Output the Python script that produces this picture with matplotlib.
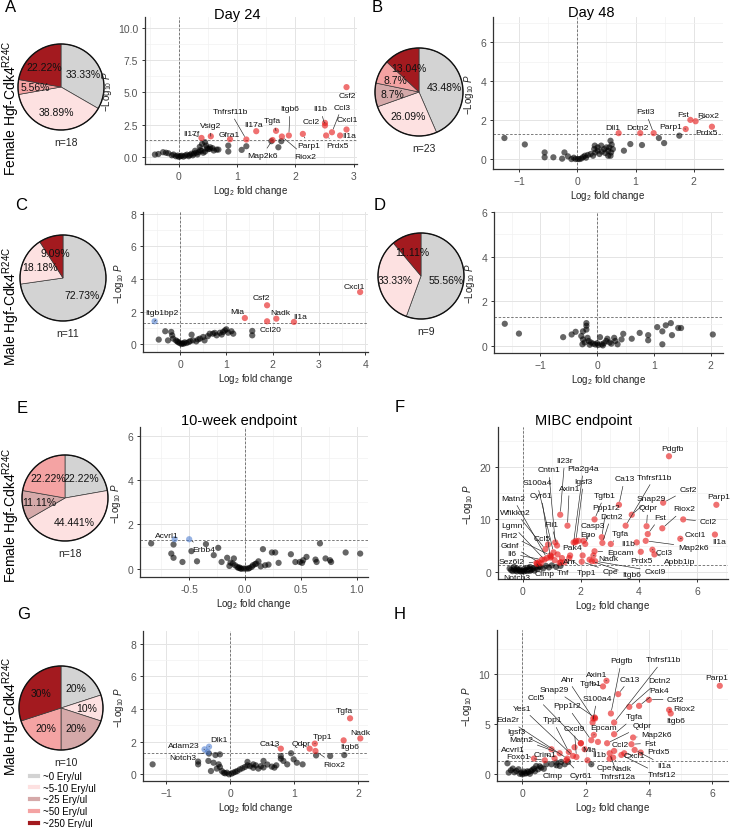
import numpy as np
import matplotlib
matplotlib.use('Agg')
import matplotlib.pyplot as plt
from matplotlib.lines import Line2D
from matplotlib.ticker import AutoMinorLocator, FormatStrFormatter

plt.rcParams['font.family'] = ['Liberation Sans', 'DejaVu Sans']
plt.rcParams['mathtext.fontset'] = 'custom'
plt.rcParams['mathtext.rm'] = 'Liberation Sans'
plt.rcParams['mathtext.it'] = 'Liberation Sans:italic'
plt.rcParams['mathtext.bf'] = 'Liberation Sans:bold'

# ---------------- data ----------------
ery_levels = ['~0 Ery/ul', '~5-10 Ery/ul', '~25 Ery/ul', '~50 Ery/ul', '~250 Ery/ul']
ery_colors = ['#d3d3d3', '#fde1e1', '#d5a9a9', '#f4a3a3', '#a31a1f']

pie_A = [33.33, 38.89, 0, 5.56, 22.22]
pie_B = [43.48, 26.09, 8.7, 8.7, 13.04]
pie_C = [72.73, 18.18, 0, 0, 9.09]
pie_D = [55.56, 33.33, 0, 0, 11.11]
pie_E = [22.22, 44.441, 11.11, 22.22, 0]
pie_G = [20, 10, 20, 20, 30]
n_A, n_B, n_C, n_D, n_E, n_G = 18, 23, 11, 9, 18, 10

P_CUT = -np.log10(0.05)

# labelled genes: (gene, log2FC, -log10 P)
A_lab = [('Csf2', 2.88, 5.41), ('Ccl3', 2.63, 1.93), ('Cxcl1', 2.88, 2.14), ('Il1a', 2.77, 1.68),
         ('Prdx5', 2.53, 1.68), ('Ccl2', 2.51, 2.65), ('Il1b', 2.51, 2.45), ('Parp1', 2.13, 1.80),
         ('Itgb6', 1.89, 1.68), ('Riox2', 1.77, 1.60), ('Tgfa', 1.67, 2.04), ('Il17a', 1.33, 2.01),
         ('Tnfrsf11b', 1.16, 1.37), ('Gfra1', 0.88, 1.39), ('Vsig2', 0.55, 1.62), ('Il17f', 0.39, 1.49),
         ('Map2k6', 1.61, 1.33)]
A_bg = [(-0.41, 0.21), (-0.27, 0.39), (-0.18, 0.31), (-0.09, 0.21), (-0.02, 0.13), (0.03, 0.08), (0.11, 0.13),
        (0.19, 0.18), (0.26, 0.28), (0.34, 0.39), (0.39, 0.49), (0.45, 0.44), (0.48, 0.70), (0.54, 0.77),
        (0.65, 0.59), (0.45, 1.16), (0.85, 0.90), (0.85, 0.44), (1.08, 0.57), (1.16, 0.85), (1.59, 1.24),
        (1.71, 0.77), (1.76, 1.24), (-0.35, 0.25), (-0.22, 0.35), (-0.12, 0.15), (-0.05, 0.08), (0.0, 0.03),
        (0.05, 0.12), (0.08, 0.05), (0.14, 0.20), (0.17, 0.08), (0.22, 0.28), (0.24, 0.15), (0.30, 0.35),
        (0.32, 0.22), (0.37, 0.55), (0.42, 0.35), (0.40, 1.03), (0.47, 0.90), (0.53, 0.64), (0.60, 0.52),
        (0.68, 0.59), (0.50, 0.62), (0.36, 0.80), (0.28, 0.50), (0.58, 0.70)]

B_lab = [('Fst', 1.94, 2.01), ('Riox2', 2.03, 1.94), ('Prdx5', 2.31, 1.66), ('Parp1', 1.86, 1.54),
         ('Fstl3', 1.31, 1.33), ('Dctn2', 1.08, 1.33), ('Dll1', 0.71, 1.33)]
B_bg = [(-1.25, 1.08), (-0.90, 0.75), (-0.56, 0.34), (-0.56, 0.09), (-0.41, 0.09), (-0.22, 0.34), (-0.26, 0.02),
        (-0.16, 0.14), (1.40, 1.08), (1.49, 0.82), (1.75, 1.20), (0.80, 0.43), (0.91, 0.77), (1.11, 0.72),
        (0.57, 0.94), (0.59, 0.74), (0.50, 0.60), (0.30, 0.69), (-0.10, 0.0), (-0.06, 0.07), (-0.03, 0.0),
        (0.01, 0.0), (0.04, 0.0), (0.07, 0.03), (0.10, 0.10), (0.13, 0.17), (0.15, 0.07), (0.18, 0.21),
        (0.23, 0.26), (0.27, 0.17), (0.31, 0.34), (0.35, 0.43), (0.38, 0.26), (0.42, 0.38), (0.46, 0.51),
        (0.48, 0.31), (0.53, 0.43), (0.55, 0.60), (0.58, 0.34), (0.61, 0.51), (0.57, 0.17), (0.41, 0.69),
        (0.35, 0.60), (0.29, 0.51), (0.53, 0.17)]

C_lab = [('Cxcl1', 3.89, 3.20), ('Csf2', 1.88, 2.39), ('Mia', 1.40, 1.61), ('Nadk', 2.08, 1.57),
         ('Ccl20', 1.88, 1.41), ('Il1a', 2.46, 1.37), ('Itgb1bp2', -0.55, 1.41)]
C_bg = [(-0.46, 0.29), (-0.32, 0.80), (-0.26, 0.24), (-0.19, 0.76), (-0.17, 0.55), (-0.15, 0.35), (-0.09, 0.24),
        (-0.04, 0.14), (-0.01, 0.08), (0.03, 0.02), (0.08, 0.04), (0.14, 0.08), (0.19, 0.14), (0.25, 0.59),
        (0.28, 0.24), (0.35, 0.18), (0.43, 0.35), (0.50, 0.45), (0.53, 0.24), (0.64, 0.65), (0.71, 0.65),
        (0.79, 0.55), (0.86, 0.71), (0.93, 0.76), (1.00, 0.92), (1.04, 0.71), (1.11, 0.80), (1.15, 0.65),
        (1.56, 0.82), (1.56, 0.55), (0.10, 0.12), (0.05, 0.06), (-0.06, 0.18), (0.22, 0.20), (0.39, 0.30),
        (0.60, 0.50), (0.75, 0.70), (0.90, 0.60), (0.97, 0.85)]

D_lab = []
D_bg = [(-1.63, 0.99), (-1.38, 0.55), (-0.60, 0.39), (-0.45, 0.51), (-0.38, 0.63), (-0.28, 0.44), (-0.25, 0.65),
        (-0.25, 0.29), (-0.26, 0.07), (-0.22, 0.15), (-0.19, 1.02), (-0.19, 0.90), (-0.19, 0.73), (-0.17, 0.36),
        (-0.15, 0.22), (-0.11, 0.15), (-0.07, 0.10), (-0.03, 0.06), (0.02, 0.04), (0.05, 0.39), (0.08, 0.07),
        (0.12, 0.12), (0.16, 0.22), (0.18, 0.32), (0.22, 0.15), (0.30, 0.36), (0.32, 0.22), (0.36, 0.07),
        (0.43, 0.29), (0.46, 0.54), (0.61, 0.32), (0.75, 0.58), (0.90, 0.48), (0.90, 0.25), (1.06, 0.84),
        (1.15, 0.65), (1.15, 0.07), (1.21, 0.92), (1.30, 1.02), (1.32, 0.48), (1.43, 0.80), (1.48, 0.80),
        (2.04, 0.51), (-0.13, 0.05), (0.0, 0.12), (0.10, 0.02), (0.25, 0.10)]

E_lab = [('Acvrl1', -0.63, 1.33), ('Erbb4', -0.50, 1.33)]
E_bg = [(-0.84, 1.14), (-0.64, 1.09), (-0.66, 0.68), (-0.64, 0.49), (-0.56, 0.30), (-0.48, 0.79), (-0.43, 0.33),
        (-0.35, 1.11), (-0.28, 0.61), (-0.24, 0.94), (-0.21, 0.30), (-0.16, 0.49), (-0.13, 0.27), (-0.10, 0.46),
        (-0.11, 0.23), (-0.09, 0.15), (-0.07, 0.08), (-0.06, 0.03), (-0.04, 0.0), (-0.03, 0.0), (-0.01, 0.0),
        (0.01, 0.0), (0.03, 0.0), (0.04, 0.03), (0.06, 0.08), (0.07, 0.15), (0.09, 0.20), (0.10, 0.23),
        (0.12, 0.33), (0.16, 0.88), (0.18, 0.15), (0.21, 0.18), (0.24, 0.73), (0.27, 0.73), (0.30, 0.26),
        (0.41, 0.65), (0.45, 0.30), (0.49, 0.30), (0.51, 0.26), (0.52, 0.38), (0.55, 0.53), (0.63, 0.41),
        (0.64, 0.30), (0.67, 1.14), (0.72, 0.46), (0.77, 0.30), (0.76, 0.38), (0.90, 0.73), (1.03, 0.68),
        (-0.14, 0.12), (0.14, 0.10), (-0.05, 0.05)]

F_lab = [('Pdgfb', 5.03, 22.1), ('Parp1', 6.66, 12.8), ('Il1a', 6.61, 7.1), ('Csf2', 4.83, 13.2),
         ('Ccl2', 5.52, 10.0), ('Riox2', 4.80, 8.3), ('Fst', 4.30, 7.2), ('Qdpr', 4.26, 8.7),
         ('Cxcl1', 5.42, 6.3), ('Map2k6', 4.23, 5.9), ('Ccl3', 4.46, 4.2), ('Apbb1ip', 4.53, 3.3),
         ('Prdx5', 4.06, 3.8), ('Il1b', 3.92, 5.6), ('Snap29', 3.75, 10.9), ('Tnfrsf11b', 3.54, 8.8),
         ('Ca13', 3.31, 12.8), ('Tgfa', 3.03, 5.3), ('Dctn2', 2.74, 5.5), ('Ppp1r2', 2.72, 6.6),
         ('Tgfb1', 2.47, 10.0), ('Casp3', 2.15, 5.3), ('Epo', 2.09, 5.9), ('Epcam', 2.47, 3.9),
         ('Nadk', 2.43, 3.1), ('Cxcl9', 2.49, 2.0), ('Itgb6', 2.38, 2.0), ('Cpe', 2.03, 1.9),
         ('Tpp1', 1.60, 2.6), ('Pak4', 1.81, 5.6), ('Ahr', 1.35, 2.6), ('Tnf', 1.31, 1.8),
         ('Clmp', 0.49, 1.5), ('Igsf3', 1.83, 5.9), ('Pla2g4a', 1.75, 5.6), ('Axin1', 1.54, 8.8),
         ('Il23r', 1.29, 10.9), ('Cntn1', 1.12, 5.6), ('S100a4', 1.06, 3.7), ('Cyr61', 0.95, 2.7),
         ('Matn2', 0.83, 2.6), ('Wfikkn2', 0.78, 4.3), ('Fli1', 1.18, 5.0), ('Lgmn', 0.75, 2.3),
         ('Ccl5', 0.87, 5.2), ('Flrt2', 0.95, 3.1), ('Gdnf', 0.55, 1.8), ('Il6', 0.66, 2.3),
         ('Sez6l2', 0.47, 1.7), ('Notch3', 0.26, 0.5)]
F_bg = [(1.44, 1.8), (1.27, 1.7), (1.63, 3.1), (2.06, 3.1), (1.92, 5.9), (1.10, 2.2), (0.62, 1.6), (0.98, 2.9),
        (1.20, 3.3), (2.30, 2.3), (-0.45, 0.6), (-0.40, 0.3), (-0.35, 0.1), (-0.30, 0.45), (-0.25, 0.2),
        (-0.20, 0.05), (-0.15, 0.35), (-0.10, 0.1), (-0.05, 0.0), (0.0, 0.15), (0.05, 0.05), (0.10, 0.25),
        (0.15, 0.1), (0.20, 0.4), (0.25, 0.15), (0.30, 0.3), (0.35, 0.6), (0.40, 0.2), (0.45, 0.8), (0.50, 0.5),
        (0.60, 0.9), (0.70, 0.6), (0.80, 1.1), (0.90, 0.8), (1.00, 1.2), (1.15, 0.9), (1.30, 1.1), (-0.20, 0.6),
        (0.05, 0.5), (0.15, 0.7), (-0.30, 0.9), (0.55, 1.0), (0.25, 0.9), (-0.10, 0.45)]

G_lab = [('Tgfa', 1.87, 3.43), ('Nadk', 2.03, 2.20), ('Itgb6', 1.77, 2.08), ('Tpp1', 1.32, 1.88),
         ('Qdpr', 1.24, 1.57), ('Ca13', 0.79, 1.57), ('Riox2', 1.33, 1.43), ('Dlk1', -0.33, 1.69),
         ('Adam23', -0.40, 1.53), ('Notch3', -0.35, 1.36)]
G_bg = [(-1.21, 0.61), (-0.50, 0.78), (-0.50, 0.61), (-0.33, 1.27), (-0.23, 1.18), (-0.16, 1.22), (-0.34, 0.82),
        (-0.26, 0.71), (-0.18, 0.61), (-0.16, 0.45), (-0.30, 0.20), (-0.21, 0.35), (-0.13, 0.20), (-0.10, 0.10),
        (-0.08, 0.06), (-0.05, 0.10), (-0.02, 0.0), (0.02, 0.04), (0.05, 0.10), (0.08, 0.15), (0.11, 0.20),
        (0.15, 0.30), (0.19, 0.37), (0.23, 0.45), (0.27, 0.55), (0.31, 0.50), (0.36, 0.40), (0.40, 0.55),
        (0.44, 0.35), (0.48, 0.50), (0.52, 0.42), (0.27, 0.76), (0.36, 0.61), (0.52, 0.82), (0.65, 0.47),
        (0.69, 0.41), (0.79, 1.12), (0.79, 0.96), (0.83, 0.82), (0.89, 0.61), (0.95, 1.29), (0.99, 0.92),
        (1.04, 0.71), (1.13, 0.61), (1.34, 1.16), (1.56, 1.12), (1.78, 1.18), (0.58, 0.60), (0.72, 0.55)]

H_lab = [('Parp1', 6.24, 8.83), ('Tnfrsf11b', 2.90, 5.17), ('Pdgfb', 2.80, 6.07), ('Axin1', 2.66, 9.33),
         ('Tgfb1', 2.55, 8.77), ('Ahr', 2.24, 5.57), ('Ca13', 3.03, 8.0), ('Dctn2', 3.38, 6.73),
         ('Pak4', 3.69, 6.83), ('Csf2', 4.00, 7.43), ('Riox2', 4.64, 6.43), ('Itgb6', 4.69, 6.07),
         ('Snap29', 2.29, 5.67), ('S100a4', 2.22, 5.17), ('Ccl5', 1.85, 3.1), ('Ppp1r2', 2.18, 3.4),
         ('Yes1', 1.60, 1.83), ('Tgfa', 2.90, 4.0), ('Epcam', 2.26, 3.93), ('Qdpr', 2.68, 3.1),
         ('Map2k6', 3.50, 3.67), ('Fst', 3.45, 3.0), ('Ccl2', 2.90, 2.33), ('Prdx5', 3.74, 2.17),
         ('Tpp1', 1.47, 2.23), ('Cxcl9', 1.71, 1.73), ('Eda2r', 1.42, 1.57), ('Igsf3', 0.92, 2.5),
         ('Matn2', 1.18, 2.1), ('Acvrl1', 0.37, 1.57), ('Foxo1', 0.71, 1.4), ('Crim1', 1.02, 1.6),
         ('Clmp', 1.08, 1.17), ('Cyr61', 1.39, 1.4), ('Mia', 1.97, 2.5), ('Il1b', 2.06, 1.4),
         ('Cpe', 2.18, 1.0), ('Nadk', 2.87, 1.67), ('Tnfrsf12a', 2.76, 2.1), ('Cxcl1', 3.22, 2.1),
         ('Il1a', 3.55, 2.43), ('Tnfsf12', 3.13, 1.93)]
H_bg = [(-0.47, 1.1), (-0.43, 0.17), (-0.30, 0.57), (-0.19, 0.33), (-0.12, 0.5), (-0.03, 0.17), (0.05, 0.27),
        (0.13, 0.1), (0.20, 0.23), (0.28, 0.33), (0.37, 0.57), (0.44, 0.83), (0.50, 0.5), (0.60, 0.67),
        (0.76, 1.0), (0.92, 1.0), (1.08, 0.9), (1.18, 0.83), (1.34, 1.0), (1.23, 1.23), (1.45, 1.23),
        (-0.25, 0.2), (-0.08, 0.05), (0.0, 0.0), (0.08, 0.08), (0.16, 0.3), (0.24, 0.05), (0.32, 0.45),
        (-0.36, 0.4), (0.40, 0.3), (0.55, 0.8), (0.68, 0.55), (2.30, 5.57), (2.39, 3.23), (1.85, 3.1),
        (2.76, 1.55), (1.65, 2.7)]

# ---------------- layout (pixels) ----------------
W, H = 731, 829
fig = plt.figure(figsize=(W / 100, H / 100), dpi=100)

A_txt = {'Csf2': (2.89, 4.77), 'Ccl3': (2.80, 3.87), 'Cxcl1': (2.89, 2.91), 'Il1a': (2.93, 1.68),
         'Prdx5': (2.72, 0.90), 'Ccl2': (2.28, 2.78), 'Il1b': (2.43, 3.74), 'Parp1': (2.23, 0.90),
         'Itgb6': (1.91, 3.74), 'Riox2': (2.17, 0.08), 'Tgfa': (1.61, 2.84), 'Il17a': (1.28, 2.50),
         'Tnfrsf11b': (0.88, 3.53), 'Gfra1': (0.87, 1.78), 'Vsig2': (0.54, 2.45), 'Il17f': (0.21, 1.80),
         'Map2k6': (1.43, 0.13)}
B_txt = {'Fst': (1.81, 2.31), 'Riox2': (2.24, 2.23), 'Prdx5': (2.21, 1.37), 'Parp1': (1.60, 1.66),
         'Fstl3': (1.17, 2.43), 'Dctn2': (1.03, 1.63), 'Dll1': (0.61, 1.63)}
C_txt = {'Cxcl1': (3.76, 3.57), 'Csf2': (1.76, 2.84), 'Mia': (1.23, 1.98), 'Nadk': (2.16, 1.92),
         'Ccl20': (1.95, 0.90), 'Il1a': (2.60, 1.71), 'Itgb1bp2': (-0.39, 1.94)}
E_txt = {'Acvrl1': (-0.70, 1.52), 'Erbb4': (-0.37, 0.88)}
F_txt = {'Pdgfb': (5.14, 23.6), 'Parp1': (6.74, 14.4), 'Il1a': (6.75, 5.75), 'Csf2': (5.69, 15.8),
         'Ccl2': (6.38, 9.6), 'Riox2': (5.55, 12.0), 'Fst': (4.72, 10.4), 'Qdpr': (4.30, 12.3),
         'Cxcl1': (5.92, 7.1), 'Map2k6': (5.86, 4.7), 'Ccl3': (4.87, 3.7), 'Apbb1ip': (5.41, 2.0),
         'Prdx5': (4.09, 2.1), 'Il1b': (3.63, 5.3), 'Snap29': (4.41, 14.1), 'Tnfrsf11b': (4.53, 18.1),
         'Ca13': (3.50, 17.8), 'Tgfa': (3.36, 7.3), 'Dctn2': (3.04, 10.6), 'Ppp1r2': (2.87, 12.2),
         'Tgfb1': (2.81, 14.6), 'Casp3': (2.40, 8.8), 'Epo': (2.24, 7.1), 'Epcam': (3.35, 3.7),
         'Nadk': (2.95, 2.6), 'Cxcl9': (4.55, 0.06), 'Itgb6': (3.75, -0.6), 'Cpe': (3.01, 0.06),
         'Tpp1': (2.21, -0.1), 'Pak4': (1.69, 4.7), 'Ahr': (1.60, 1.9), 'Tnf': (1.40, -0.1),
         'Clmp': (0.74, -0.3), 'Igsf3': (2.09, 17.3), 'Pla2g4a': (2.09, 19.8), 'Axin1': (1.60, 16.0),
         'Il23r': (1.44, 21.3), 'Cntn1': (0.89, 19.5), 'S100a4': (0.49, 17.0), 'Cyr61': (0.64, 14.6),
         'Matn2': (-0.34, 14.1), 'Wfikkn2': (-0.25, 11.4), 'Fli1': (0.98, 9.1), 'Lgmn': (-0.37, 8.9),
         'Ccl5': (0.66, 6.3), 'Flrt2': (-0.46, 7.0), 'Gdnf': (-0.45, 5.1), 'Il6': (-0.37, 3.4),
         'Sez6l2': (-0.37, 1.9), 'Notch3': (-0.22, -1.2)}
G_txt = {'Tgfa': (1.78, 3.88), 'Nadk': (2.03, 2.59), 'Itgb6': (1.87, 1.73), 'Tpp1': (1.44, 2.29),
         'Qdpr': (1.10, 1.88), 'Ca13': (0.61, 1.88), 'Riox2': (1.63, 0.61), 'Dlk1': (-0.18, 2.14),
         'Adam23': (-0.72, 1.78), 'Notch3': (-0.74, 1.02)}
H_txt = {'Parp1': (6.14, 9.67), 'Tnfrsf11b': (4.45, 11.43), 'Pdgfb': (3.13, 11.33), 'Axin1': (2.36, 10.0),
         'Tgfb1': (2.15, 9.1), 'Ahr': (1.42, 9.5), 'Ca13': (3.40, 9.5), 'Dctn2': (4.32, 9.33),
         'Pak4': (4.32, 8.4), 'Csf2': (4.85, 7.5), 'Riox2': (5.11, 6.57), 'Itgb6': (4.85, 5.33),
         'Snap29': (1.02, 8.43), 'S100a4': (2.36, 7.57), 'Ccl5': (0.44, 7.67), 'Ppp1r2': (1.41, 6.83),
         'Yes1': (0.0, 6.6), 'Tgfa': (3.55, 5.73), 'Epcam': (2.58, 4.67), 'Qdpr': (3.79, 4.83),
         'Map2k6': (4.24, 4.0), 'Fst': (4.05, 3.1), 'Ccl2': (3.10, 3.0), 'Prdx5': (4.29, 2.27),
         'Tpp1': (0.95, 5.43), 'Cxcl9': (1.64, 4.6), 'Eda2r': (-0.45, 5.43), 'Igsf3': (-0.19, 4.23),
         'Matn2': (-0.03, 3.5), 'Acvrl1': (-0.30, 2.45), 'Foxo1': (-0.12, 1.75), 'Crim1': (0.71, 2.0),
         'Clmp': (0.97, -0.1), 'Cyr61': (1.85, -0.1), 'Mia': (2.13, 2.43), 'Il1b': (2.43, 1.93),
         'Cpe': (2.58, 0.67), 'Nadk': (3.13, 0.57), 'Tnfrsf12a': (3.03, -0.27), 'Cxcl1': (3.55, 1.83),
         'Il1a': (4.48, 0.9), 'Tnfsf12': (4.40, -0.07)}

GRAY = (0.0, 0.0, 0.0, 0.6)
RED = (0.9, 0.1, 0.1, 0.62)
BLUE = (0.25, 0.45, 0.8, 0.55)
LAB_FS = 6.1


def px_axes(l, t, r, b):
    return fig.add_axes([l / W, 1 - b / H, (r - l) / W, (b - t) / H])


def ftext(x, y, s, **kw):
    fig.text(x / W, 1 - y / H, s, **kw)


def draw_pie(cx, cy, r, values, n):
    ax = px_axes(cx - r - 3, cy - r - 3, cx + r + 3, cy + r + 3)
    vals = [v for v in values if v > 0]
    cols = [c for v, c in zip(values, ery_colors) if v > 0]
    wedges, _ = ax.pie(vals, colors=cols, startangle=90, counterclock=False, radius=1.0,
                       wedgeprops=dict(edgecolor='#3a3a3a', linewidth=0.5))
    for w, v in zip(wedges, vals):
        ang = np.deg2rad((w.theta1 + w.theta2) / 2)
        ax.text(0.6 * np.cos(ang), 0.6 * np.sin(ang), f'{v:g}%', ha='center', va='center',
                fontsize=7.5, color='#111111')
    ax.add_patch(plt.Circle((0, 0), 1, fill=False, lw=1.0, ec='#111111'))
    lim = (r + 3) / r
    ax.set_xlim(-lim, lim)
    ax.set_ylim(-lim, lim)
    ax.axis('off')
    ftext(cx + 5, cy + r + 12, f'n={n}', ha='center', va='center', fontsize=7.5, color='#222222')


def volcano(rect, lab, bg, txt, xlim, ylim, xticks, yticks, xfmt=None, yfmt=None):
    ax = px_axes(*rect)
    ax.set_xlim(xlim)
    ax.set_ylim(ylim)
    fc = np.array([x for _, x, _ in lab] + [p[0] for p in bg], dtype=float)
    lp = np.array([y for _, _, y in lab] + [p[1] for p in bg], dtype=float)
    palette = np.array([GRAY, RED, BLUE])
    cls = np.where(lp > P_CUT, np.where(fc > 0, 1, 2), 0)
    order = np.argsort(cls, kind='stable')
    ax.scatter(fc[order], lp[order], s=20, c=palette[cls[order]], linewidths=0, zorder=3)
    ax.axhline(P_CUT, color='#666666', lw=0.6, ls=(0, (3, 2)), zorder=2)
    ax.axvline(0, color='#666666', lw=0.6, ls=(0, (3, 2)), zorder=2)
    ax.set_xticks(xticks)
    ax.set_yticks(yticks)
    if xfmt:
        ax.xaxis.set_major_formatter(FormatStrFormatter(xfmt))
    if yfmt:
        ax.yaxis.set_major_formatter(FormatStrFormatter(yfmt))
    ax.xaxis.set_minor_locator(AutoMinorLocator(2))
    ax.yaxis.set_minor_locator(AutoMinorLocator(2))
    ax.grid(True, which='major', color='#e4e4e4', lw=0.7)
    ax.grid(True, which='minor', color='#f1f1f1', lw=0.5)
    ax.set_axisbelow(True)
    for s in ['top', 'right']:
        ax.spines[s].set_visible(False)
    for s in ['left', 'bottom']:
        ax.spines[s].set_color('#333333')
        ax.spines[s].set_linewidth(0.9)
    ax.tick_params(which='major', length=2.5, width=0.7, color='#333333', labelsize=7.5,
                   labelcolor='#555555', pad=2.5)
    ax.tick_params(which='minor', length=0)
    ax.set_xlabel('Log$_2$ fold change', fontsize=7, labelpad=1.5, color='#222222')
    ax.set_ylabel(r'$-\mathrm{Log}_{10}\ \mathit{P}$', fontsize=7, labelpad=3, color='#222222')
    for g, x, y in lab:
        tx, ty = txt[g]
        p = ax.transData.transform((x, y))
        q = ax.transData.transform((tx, ty))
        if np.hypot(*(p - q)) > 10:
            ax.annotate(g, (x, y), xytext=(tx, ty), ha='center', va='center', fontsize=LAB_FS,
                        color='#111111', zorder=5, annotation_clip=False,
                        arrowprops=dict(arrowstyle='-', color='#222222', lw=0.45,
                                        shrinkA=1.0, shrinkB=2.5))
        else:
            ax.text(tx, ty, g, ha='center', va='center', fontsize=LAB_FS, color='#111111', zorder=5)
    return ax


# pies
draw_pie(61, 88, 43, pie_A, n_A)
draw_pie(419, 93, 44, pie_B, n_B)
draw_pie(63, 279, 43, pie_C, n_C)
draw_pie(421, 277, 43, pie_D, n_D)
draw_pie(65, 499, 43, pie_E, n_E)
draw_pie(61, 709, 42, pie_G, n_G)

# volcanos
volcano((145, 18, 357, 165), A_lab, A_bg, A_txt, (-0.58, 3.06), (-0.52, 10.82), [0, 1, 2, 3],
        [0, 2.5, 5, 7.5, 10], yfmt='%.1f')
volcano((493, 18, 723, 170), B_lab, B_bg, B_txt, (-1.446, 2.50), (-0.51, 7.29), [-1, 0, 1, 2], [0, 2, 4, 6])
volcano((143, 213, 368, 353), C_lab, C_bg, C_txt, (-0.80, 4.06), (-0.47, 8.1), [0, 1, 2, 3, 4], [0, 2, 4, 6, 8])
volcano((494, 213, 723, 354), D_lab, D_bg, {}, (-1.82, 2.22), (-0.32, 6.0), [-1, 0, 1, 2], [0, 2, 4, 6])
volcano((140, 428, 368, 578), E_lab, E_bg, E_txt, (-0.94, 1.10), (-0.38, 6.41), [-0.5, 0, 0.5, 1.0],
        [0, 2, 4, 6], xfmt='%.1f')
volcano((498, 428, 728, 580), F_lab, F_bg, F_txt, (-0.85, 7.06), (-1.41, 27.7), [0, 2, 4, 6], [0, 10, 20])
volcano((143, 632, 368, 782), G_lab, G_bg, G_txt, (-1.36, 2.15), (-0.41, 8.78), [-1, 0, 1, 2], [0, 2, 4, 6, 8])
volcano((497, 631, 728, 782), H_lab, H_bg, H_txt, (-0.80, 6.50), (-0.67, 14.4), [0, 2, 4, 6], [0, 5, 10])

# titles
ftext(237, 15, 'Day 24', ha='center', va='center', fontsize=10.5)
ftext(591, 13, 'Day 48', ha='center', va='center', fontsize=10.5)
ftext(239, 421, '10-week endpoint', ha='center', va='center', fontsize=10.5)
ftext(584, 421, 'MIBC endpoint', ha='center', va='center', fontsize=10.5)

# panel letters
for L, x, y in [('A', 11, 8), ('B', 377, 8), ('C', 21, 206), ('D', 380, 206),
                ('E', 22, 409), ('F', 400, 408), ('G', 24, 615), ('H', 400, 615)]:
    ftext(x, y, L, ha='center', va='center', fontsize=12)

# row labels
for s, y in [('Female', 108), ('Male', 306), ('Female', 515), ('Male', 716)]:
    ftext(11, y, s + r' Hgf-Cdk4$^{\mathrm{R24C}}$', rotation=90, ha='center', va='center', fontsize=10)

# legend
handles = [Line2D([0], [0], color=c, lw=3) for c in ery_colors]
fig.legend(handles, ery_levels, loc='upper left', bbox_to_anchor=(30 / W, 1 - 772 / H), frameon=False,
           fontsize=7, handlelength=0.8, handletextpad=0.5, labelspacing=0.18, borderpad=0, borderaxespad=0)

fig.savefig('out.png', dpi=100)
